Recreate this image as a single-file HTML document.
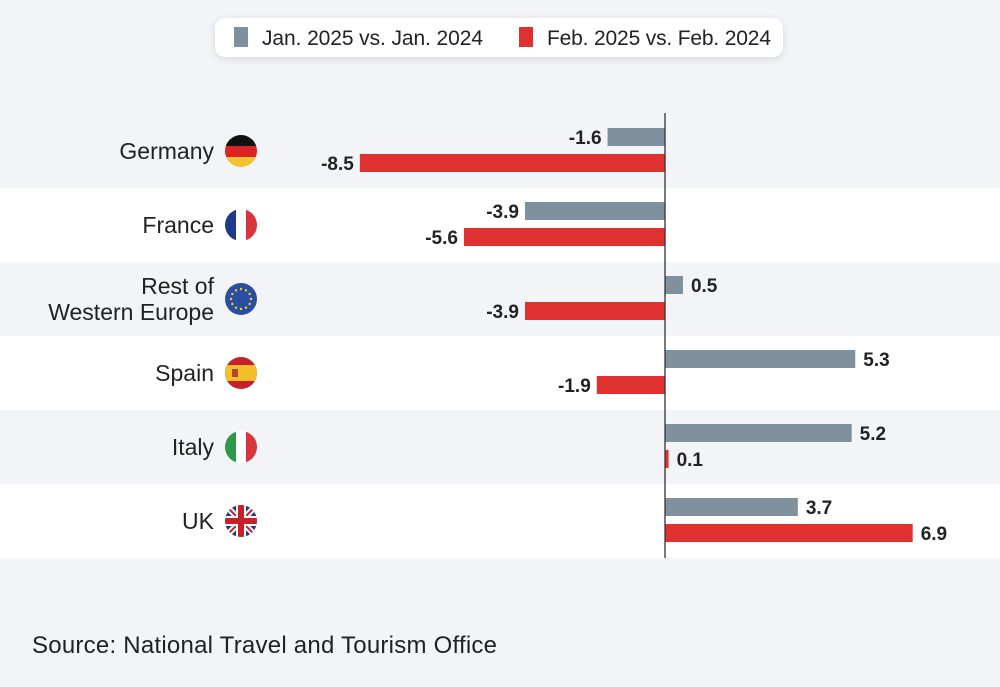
<!DOCTYPE html>
<html><head><meta charset="utf-8"><style>
body{margin:0;width:1000px;height:682px;background:#f3f4f7;font-family:"Liberation Sans",sans-serif;overflow:hidden}
</style></head><body>
<svg width="1000" height="682" id="c">
<g id="bands"></g>
<g>
<rect x="215" y="18" width="568" height="39" rx="10" fill="#fff" style="filter:drop-shadow(0 2px 4px rgba(0,0,0,0.12))"/>
<rect x="234" y="27" width="14" height="20" fill="#7f909e"/>
<text x="262" y="45" font-size="21" fill="#222" textLength="221">Jan. 2025 vs. Jan. 2024</text>
<rect x="519" y="27" width="14" height="20" fill="#e03131"/>
<text x="547" y="45" font-size="21" fill="#222" textLength="224">Feb. 2025 vs. Feb. 2024</text>
</g>
<g id="bars"></g>
<text x="32" y="653" font-size="24" fill="#222" textLength="465">Source: National Travel and Tourism Office</text>
</svg>
<script>
const categories=["Germany","France","Rest of|Western Europe","Spain","Italy","UK"];
const janValues=[-1.6,-3.9,0.5,5.3,5.2,3.7];
const febValues=[-8.5,-5.6,-3.9,-1.9,0.1,6.9];
const flagCodes=["de","fr","eu","es","it","uk"];
const NS="http://www.w3.org/2000/svg";
const x0=665,pxPer=35.9,rowTop=114,rowH=74;
const xs=v=>x0+v*pxPer;
const bands=document.getElementById('bands'),bars=document.getElementById('bars');
function mk(tag,attrs,parent){const e=document.createElementNS(NS,tag);for(const k in attrs)e.setAttribute(k,attrs[k]);parent.appendChild(e);return e;}
function flag(code,cx,cy,g){
  const id='clip'+code;
  const cp=mk('clipPath',{id:id},g);mk('circle',{cx:cx,cy:cy,r:16},cp);
  const f=mk('g',{'clip-path':'url(#'+id+')'},g);
  const x=cx-16,y=cy-16;
  if(code==='de'){mk('rect',{x:x,y:y,width:32,height:11,fill:'#111'},f);mk('rect',{x:x,y:y+11,width:32,height:11,fill:'#dd2222'},f);mk('rect',{x:x,y:y+22,width:32,height:10,fill:'#f2c230'},f);}
  if(code==='fr'){mk('rect',{x:x,y:y,width:11,height:32,fill:'#1f3a8a'},f);mk('rect',{x:x+11,y:y,width:10,height:32,fill:'#fff'},f);mk('rect',{x:x+21,y:y,width:11,height:32,fill:'#d8343e'},f);}
  if(code==='it'){mk('rect',{x:x,y:y,width:11,height:32,fill:'#2e9a48'},f);mk('rect',{x:x+11,y:y,width:10,height:32,fill:'#fff'},f);mk('rect',{x:x+21,y:y,width:11,height:32,fill:'#d8343e'},f);}
  if(code==='es'){mk('rect',{x:x,y:y,width:32,height:32,fill:'#c8202a'},f);mk('rect',{x:x,y:y+8,width:32,height:16,fill:'#f3bf2a'},f);mk('rect',{x:x+7,y:y+12,width:6,height:8,fill:'#b5462a'},f);}
  if(code==='eu'){mk('rect',{x:x,y:y,width:32,height:32,fill:'#2a4ea0'},f);for(let i=0;i<12;i++){const a=i*Math.PI/6;mk('circle',{cx:cx+10*Math.cos(a),cy:cy+10*Math.sin(a),r:1.2,fill:'#f5d030'},f);}}
  if(code==='uk'){mk('rect',{x:x,y:y,width:32,height:32,fill:'#24368a'},f);
    mk('path',{d:`M${x} ${y}L${x+32} ${y+32}M${x+32} ${y}L${x} ${y+32}`,stroke:'#fff','stroke-width':6},f);
    mk('path',{d:`M${x} ${y}L${x+32} ${y+32}M${x+32} ${y}L${x} ${y+32}`,stroke:'#c8202a','stroke-width':2},f);
    mk('rect',{x:cx-5,y:y,width:10,height:32,fill:'#fff'},f);mk('rect',{x:x,y:cy-5,width:32,height:10,fill:'#fff'},f);
    mk('rect',{x:cx-3,y:y,width:6,height:32,fill:'#c8202a'},f);mk('rect',{x:x,y:cy-3,width:32,height:6,fill:'#c8202a'},f);}
}
categories.forEach((c,i)=>{
  const top=rowTop+i*rowH,cy=top+rowH/2;
  if(i%2===1){const b=mk('rect',{x:0,y:top,width:1000,height:rowH,fill:'#fff'},bands);}
  const lines=c.split('|');
  lines.forEach((l,j)=>{const t=mk('text',{x:214,y:cy+8+(j-(lines.length-1)/2)*26,'font-size':23,fill:'#222','text-anchor':'end'},bars);t.textContent=l;});
  const fg=mk('g',{},bars);
  flag(flagCodes[i],241,cy,fg);
  [[janValues[i],'#7f909e',-23],[febValues[i],'#e03131',3]].forEach(([v,col,off],k)=>{
    const a=Math.min(xs(v),x0),w=Math.abs(xs(v)-x0);
    const r=mk('rect',{x:a,y:cy+off,width:Math.max(w,2),height:18,fill:col},bars);
    
    const t=mk('text',{x:v<0?a-6:a+w+8,y:cy+off+16,'font-size':19,'font-weight':'bold',fill:'#222','text-anchor':v<0?'end':'start'},bars);
    t.textContent=v.toFixed(1);
  });
});
const ax=mk('line',{x1:x0,x2:x0,y1:113,y2:558,stroke:'#333','stroke-width':1.3},bars);


</script>
</body></html>
